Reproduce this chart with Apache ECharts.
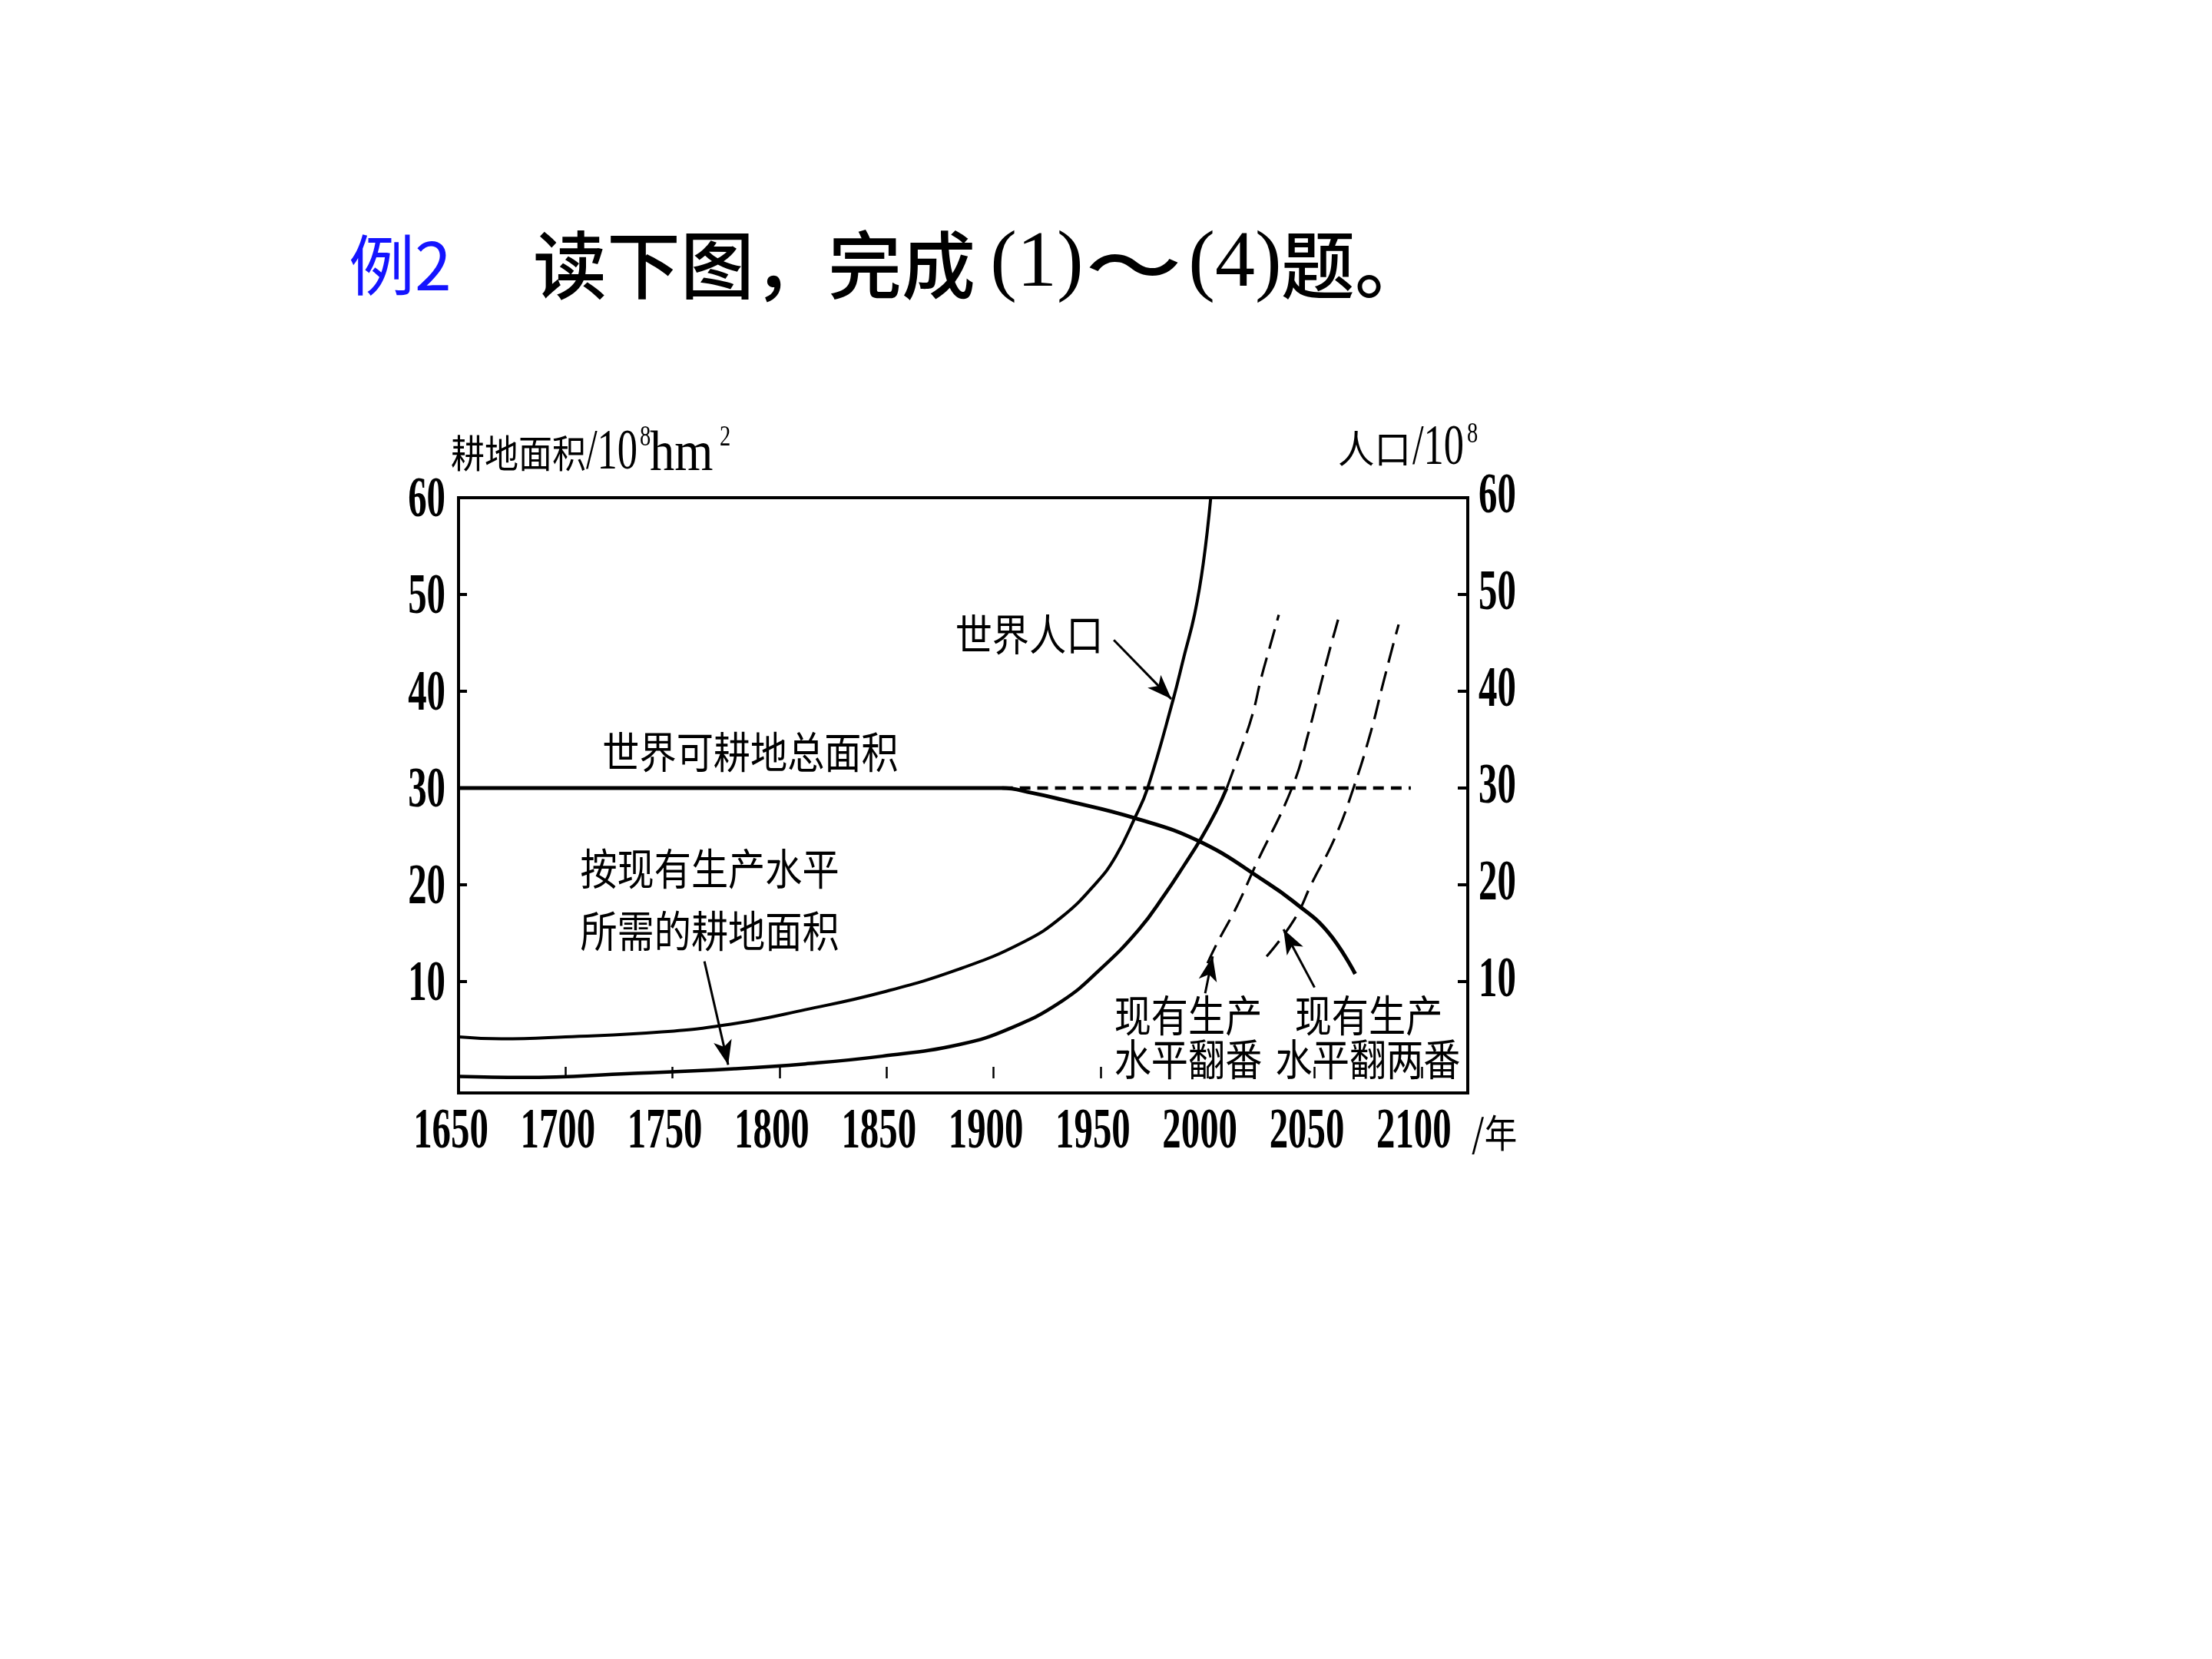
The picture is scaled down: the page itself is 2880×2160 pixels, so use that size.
<!DOCTYPE html>
<html lang="zh-CN">
<head>
<meta charset="UTF-8">
<title>耕地面积与世界人口</title>
<script src="https://cdn.jsdelivr.net/npm/echarts@6/dist/echarts.min.js"></script>
<style>
html, body { margin: 0; padding: 0; background: #fff; }
#main { width: 2880px; height: 2160px; }
</style>
</head>
<body>
<div id="main"></div>
<script>
// 刻度
var xTicks = [1700, 1750, 1800, 1850, 1900, 1950, 2000, 2050, 2100];
var xLabels = [1650, 1700, 1750, 1800, 1850, 1900, 1950, 2000, 2050, 2100];
var yTicks = [10, 20, 30, 40, 50];
var yLabels = [10, 20, 30, 40, 50, 60];

// 世界可耕地总面积 (10^8 hm2)
var arableLand = [[1650, 30], [1880, 30], [1904, 30], [1918, 29.5], [1932, 28.8], [1966, 26.9],
    [1997, 24.4], [2028, 20.2], [2040, 18.3], [2056, 15.2], [2069, 10.8]];
var arableLandDash = [[1904, 30], [2095, 30]];

// 世界人口 (10^8)
var population = [[1650, 4.3], [1670, 4.1], [1700, 4.3], [1745, 4.8], [1780, 5.7], [1812, 7.1],
    [1848, 8.9], [1884, 11.3], [1914, 14.1], [1932, 16.7], [1948, 20.2], [1957, 22.9], [1966, 26.9],
    [1972, 30.0], [1984, 39.2], [1989, 43.6], [1994, 48.0], [1998, 53.2], [2001.5, 60]];

// 按现有生产水平所需的耕地面积
var landNeeded = [[1650, 0.2], [1680, 0.1], [1730, 0.5], [1779, 1.0], [1812, 1.5], [1848, 2.3],
    [1884, 3.5], [1908, 5.2], [1932, 8.0], [1950, 11.3], [1968, 15.4], [1980, 19.0], [1989, 22.0],
    [1997, 24.8], [2004, 27.6], [2009, 30]];
var landNeededDash = [[2009, 30], [2015.4, 33.9], [2021, 37.6], [2025, 41.3], [2029.4, 44.8], [2033.3, 47.9]];
// 现有生产水平翻番
var landDouble = [[2000, 11.9], [2004.3, 13.9], [2014, 17.9], [2022, 21.8], [2039.8, 30.2],
    [2047.3, 35.8], [2052.8, 40.6], [2057, 44.2], [2061, 47.4]];
// 现有生产水平翻两番
var landQuad = [[2027.6, 12.6], [2040.5, 16.4], [2048.8, 20.2], [2059.6, 24.9], [2068.5, 30.2],
    [2076.3, 35.8], [2081.8, 40.6], [2086, 44.2], [2089.3, 46.9]];

// 箭头: 起点, 终点, 弯曲
var arrowFrom = [[1956.2, 45.3], [1764.9, 12.1], [1998.9, 8.8], [2050, 9.4]];
var arrowTo = [[1983.1, 39.2], [1776, 1.4], [2002.4, 12.6], [2035.5, 15.4]];
var arrowBend = [-0.3, 0.25, 0, 0];

var CJK = '"Noto Sans CJK SC", sans-serif';
var NUM = '"Liberation Serif", "Times New Roman", serif';

function curve(data, width, dash, yIdx) {
    return {
        type: 'line', data: data, yAxisIndex: yIdx || 0,
        showSymbol: false, smooth: 0.45, silent: true,
        lineStyle: { color: '#000', width: width, type: dash || 'solid' }
    };
}

function arrow(i) {
    return {
        type: 'line', data: [], silent: true,
        markLine: {
            silent: true, animation: false,
            symbol: ['none', 'arrow'], symbolSize: [18, 32],
            label: { show: false },
            lineStyle: { color: '#000', width: 3, type: 'solid', curveness: arrowBend[i] },
            emphasis: { disabled: true },
            data: [[{ coord: arrowFrom[i] }, { coord: arrowTo[i] }]]
        }
    };
}

function txt(x, y, text, size, family, align, sx, extra) {
    var el = {
        type: 'text', x: x, y: y, scaleX: sx || 1, silent: true,
        style: {
            text: text, fontSize: size, fontFamily: family, fill: '#000',
            textAlign: align, align: align, textVerticalAlign: 'middle', verticalAlign: 'middle'
        }
    };
    if (extra) for (var k in extra) el.style[k] = extra[k];
    return el;
}

var axisY = function (pos) {
    return {
        type: 'value', position: pos, min: -1.5, max: 60,
        axisLine: { show: false }, splitLine: { show: false }, axisLabel: { show: false },
        axisTick: { show: true, inside: true, length: pos === 'left' ? 11 : 13, customValues: yTicks,
            lineStyle: { color: '#000', width: 4 } }
    };
};

var option = {
    animation: false,
    backgroundColor: '#fff',
    grid: { left: 597, top: 648, width: 1314, height: 775, show: true,
        borderColor: '#000', borderWidth: 4, backgroundColor: 'transparent' },
    xAxis: {
        type: 'value', min: 1650, max: 2121.6,
        axisLine: { show: false }, splitLine: { show: false }, axisLabel: { show: false },
        axisTick: { show: true, inside: true, length: 15, customValues: xTicks,
            lineStyle: { color: '#000', width: 2.5 } }
    },
    yAxis: [axisY('left'), axisY('right')],
    series: [
        curve(arableLand, 5),
        curve(arableLandDash, 4.5, [14, 9]),
        curve(population, 4, null, 1),
        curve(landNeeded, 4.5),
        curve(landNeededDash, 3.2, [26, 12]),
        curve(landDouble, 3.2, [26, 12]),
        curve(landQuad, 3.2, [26, 12])
    ].concat(arrowFrom.map(function (a, i) { return arrow(i); }))
};

var chart = echarts.init(document.getElementById('main'));
chart.setOption(option);

var g = [];
// 标题
var tw = { fontWeight: 500 };
g.push(txt(454, 345, '例2', 86, CJK, 'left', 1, { fill: '#1414ff' }));
g.push(txt(694, 345, '读下图，完成', 96, CJK, 'left', 1, tw));
g.push(txt(1350, 345, '(1)', 104, NUM, 'center', 1));
g.push(txt(1476, 345, '～', 100, CJK, 'center', 1.25, tw));
g.push(txt(1608, 345, '(4)', 104, NUM, 'center', 1));
g.push(txt(1668, 345, '题。', 96, CJK, 'left', 1, tw));

// 坐标轴标签
var numStyle = { fontWeight: 'bold' };
xLabels.forEach(function (v) {
    var px = chart.convertToPixel({ xAxisIndex: 0 }, v);
    g.push(txt(px - 10, 1475, String(v), 74, NUM, 'center', 0.66, numStyle));
});
yLabels.forEach(function (v) {
    var py = chart.convertToPixel({ yAxisIndex: 0 }, v);
    g.push(txt(580, py + 5, String(v), 74, NUM, 'right', 0.66, numStyle));
    var pr = chart.convertToPixel({ yAxisIndex: 1 }, v);
    g.push(txt(1925, pr, String(v), 74, NUM, 'left', 0.66, numStyle));
});
g.push(txt(1916, 1475, '/年', 50, CJK, 'left', 0.85));

// 轴名
g.push(txt(587, 590, '耕地面积', 50, CJK, 'left', 0.88));
g.push(txt(763, 590, '/10', 75, NUM, 'left', 0.7));
g.push(txt(833, 570, '8', 38, NUM, 'left', 0.75));
g.push(txt(846, 592, 'hm', 75, NUM, 'left', 0.86));
g.push(txt(937, 570, '2', 38, NUM, 'left', 0.75));
g.push(txt(1742, 584, '人口', 50, CJK, 'left', 0.95));
g.push(txt(1839, 584, '/10', 75, NUM, 'left', 0.7));
g.push(txt(1910, 566, '8', 38, NUM, 'left', 0.75));

// 图中注记
var s = 0.86, f = 56;
g.push(txt(1340, 826, '世界人口', f, CJK, 'center', s));
g.push(txt(977, 979, '世界可耕地总面积', f, CJK, 'center', s));
g.push(txt(924, 1131, '按现有生产水平', f, CJK, 'center', s));
g.push(txt(924, 1212, '所需的耕地面积', f, CJK, 'center', s));
g.push(txt(1547, 1322, '现有生产', f, CJK, 'center', s));
g.push(txt(1547, 1379, '水平翻番', f, CJK, 'center', s));
g.push(txt(1782, 1322, '现有生产', f, CJK, 'center', s));
g.push(txt(1781, 1379, '水平翻两番', f, CJK, 'center', s));

chart.setOption({ graphic: g });
</script>
</body>
</html>
